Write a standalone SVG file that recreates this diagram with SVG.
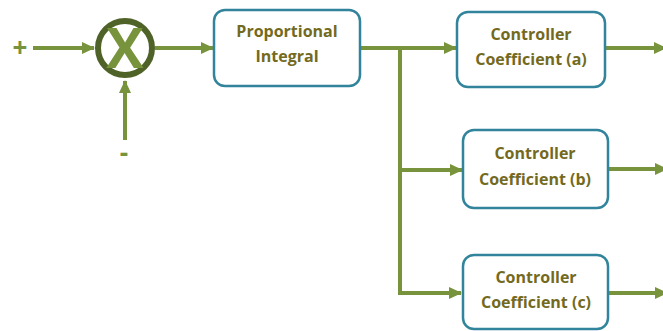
<svg xmlns="http://www.w3.org/2000/svg" width="663" height="331" viewBox="0 0 663 331">
<style>
.conn{fill:none;stroke:#77933C;stroke-width:4}
.box{fill:#fff;stroke:#31849B;stroke-width:2.5}
.lbl{font-family:"Open Sans","Liberation Sans",sans-serif;font-weight:700;font-size:16px;fill:#736A1E;text-anchor:middle}
.sign{font-family:"Open Sans","Liberation Sans",sans-serif;font-weight:700;font-size:26px;fill:#77933C;text-anchor:middle}
</style>
<defs>
<marker id="ah" markerUnits="userSpaceOnUse" markerWidth="14" markerHeight="14" refX="12" refY="7" orient="auto">
<path d="M0,1 L13,7 L0,13 Z" fill="#77933C"/>
</marker>
</defs>
<rect width="663" height="331" fill="#fff"/>
<g id="connectors">
<line class="conn" x1="33" y1="48" x2="94" y2="48" marker-end="url(#ah)"/>
<line class="conn" x1="125" y1="140" x2="125" y2="81" marker-end="url(#ah)"/>
<line class="conn" x1="155" y1="48" x2="213" y2="48" marker-end="url(#ah)"/>
<line class="conn" x1="360" y1="48" x2="456" y2="48" marker-end="url(#ah)"/>
<polyline class="conn" points="400,48 400,293 461,293" marker-end="url(#ah)"/>
<line class="conn" x1="400" y1="170" x2="462" y2="170" marker-end="url(#ah)"/>
<line class="conn" x1="605" y1="48" x2="666" y2="48" marker-end="url(#ah)"/>
<line class="conn" x1="608" y1="169" x2="667" y2="169" marker-end="url(#ah)"/>
<line class="conn" x1="608" y1="293" x2="667" y2="293" marker-end="url(#ah)"/>
</g>
<g id="plus"><text class="sign" x="20" y="57">+</text></g>
<g id="minus"><text class="sign" x="124" y="162">-</text></g>
<g id="sum">
<circle cx="125" cy="48" r="27" fill="#fff" stroke="#4F6228" stroke-width="6"/>
<text x="125" y="68" font-family="Open Sans,Liberation Sans,sans-serif" font-weight="700" font-size="56" fill="#77933C" text-anchor="middle">X</text>
</g>
<g id="pi">
<rect class="box" x="214" y="10" width="146" height="76" rx="11"/>
<text class="lbl" x="287" y="37">Proportional</text>
<text class="lbl" x="287" y="62">Integral</text>
</g>
<g id="coef-a">
<rect class="box" x="457" y="12" width="148" height="75" rx="11"/>
<text class="lbl" x="531" y="40">Controller</text>
<text class="lbl" x="531" y="65">Coefficient (a)</text>
</g>
<g id="coef-b">
<rect class="box" x="463" y="130" width="145" height="78" rx="11"/>
<text class="lbl" x="535" y="159">Controller</text>
<text class="lbl" x="535" y="185">Coefficient (b)</text>
</g>
<g id="coef-c">
<rect class="box" x="463" y="255" width="145" height="74" rx="11"/>
<text class="lbl" x="536" y="283">Controller</text>
<text class="lbl" x="536" y="308">Coefficient (c)</text>
</g>
</svg>
